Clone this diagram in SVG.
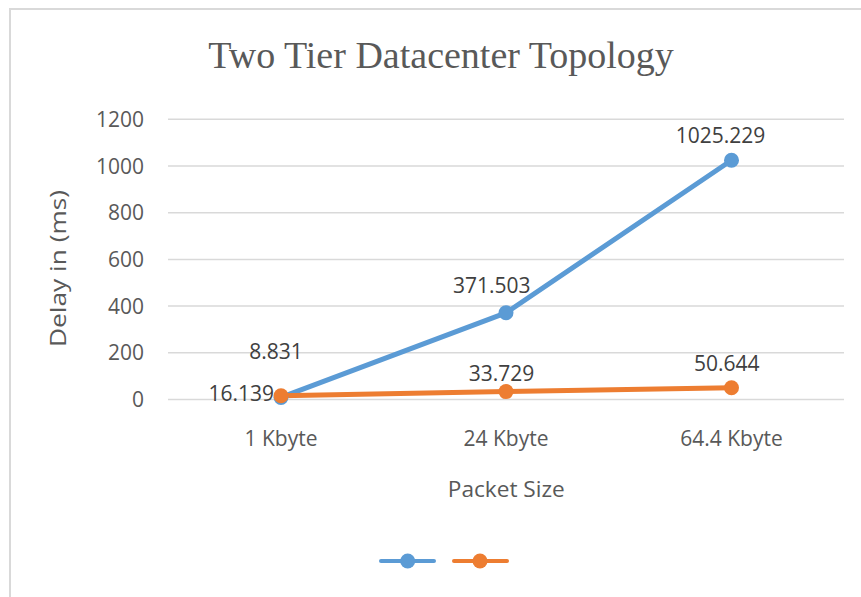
<svg xmlns="http://www.w3.org/2000/svg" width="861" height="597" viewBox="0 0 861 597">
  <style>
    .frame { fill: none; stroke: #d9d9d9; stroke-width: 2; }
    .grid { stroke: #d9d9d9; stroke-width: 1.5; }
    .lbl { font-family: "Open Sans", "Liberation Sans", sans-serif; font-size: 21px; fill: #595959; }
    .axt { font-family: "Open Sans", "Liberation Sans", sans-serif; font-size: 22px; fill: #595959; }
    .dl { font-family: "Open Sans", "Liberation Sans", sans-serif; font-size: 21px; fill: #404040; }
    .title { font-family: "Liberation Serif", "DejaVu Serif", serif; font-size: 38px; fill: #595959; }
    .blue { fill: none; stroke: #5b9bd5; stroke-width: 5; stroke-linejoin: round; stroke-linecap: round; }
    .orange { fill: none; stroke: #ed7d31; stroke-width: 5; stroke-linejoin: round; stroke-linecap: round; }
    .bdot { fill: #5b9bd5; }
    .odot { fill: #ed7d31; }
  </style>

  <rect width="861" height="597" fill="#ffffff"/>
  <!-- chart area frame (right and bottom edges fall outside the canvas) -->
  <rect class="frame" x="10" y="9" width="870" height="600"/>

  <text id="title" class="title" x="441" y="68" text-anchor="middle">Two Tier Datacenter Topology</text>

  <!-- value axis gridlines and tick labels -->
  <g id="y-axis">
    <line class="grid" x1="168" y1="119.3" x2="844" y2="119.3"/>
    <line class="grid" x1="168" y1="166" x2="844" y2="166"/>
    <line class="grid" x1="168" y1="212.7" x2="844" y2="212.7"/>
    <line class="grid" x1="168" y1="259.4" x2="844" y2="259.4"/>
    <line class="grid" x1="168" y1="306.1" x2="844" y2="306.1"/>
    <line class="grid" x1="168" y1="352.8" x2="844" y2="352.8"/>
    <line class="grid" x1="168" y1="399.5" x2="844" y2="399.5"/>
    <g class="lbl" text-anchor="end">
      <text x="144" y="126.8">1200</text>
      <text x="144" y="173.5">1000</text>
      <text x="144" y="220.2">800</text>
      <text x="144" y="266.9">600</text>
      <text x="144" y="313.6">400</text>
      <text x="144" y="360.3">200</text>
      <text x="144" y="407">0</text>
    </g>
    <text class="axt" x="0" y="0" text-anchor="middle" textLength="157" lengthAdjust="spacingAndGlyphs" transform="translate(66 268.5) rotate(-90)">Delay in (ms)</text>
  </g>

  <!-- category axis -->
  <g id="x-axis" text-anchor="middle">
    <text class="lbl" x="281" y="446">1 Kbyte</text>
    <text class="lbl" x="506" y="446">24 Kbyte</text>
    <text class="lbl" x="731.5" y="446">64.4 Kbyte</text>
    <text class="axt" x="506.3" y="497.3" textLength="117" lengthAdjust="spacingAndGlyphs">Packet Size</text>
  </g>

  <!-- data series -->
  <g id="connectors">
    <polyline class="blue" points="281,397.4 506,312.8 731.5,160.3"/>
    <polyline class="orange" points="281,395.7 506,391.6 731.5,387.7"/>
  </g>

  <g id="series-blue">
    <circle class="bdot" cx="281" cy="397.4" r="7.5"/>
    <circle class="bdot" cx="506" cy="312.8" r="7.5"/>
    <circle class="bdot" cx="731.5" cy="160.3" r="7.5"/>
  </g>
  <g id="series-orange">
    <circle class="odot" cx="281" cy="395.7" r="7.5"/>
    <circle class="odot" cx="506" cy="391.6" r="7.5"/>
    <circle class="odot" cx="731.5" cy="387.7" r="7.5"/>
  </g>

  <!-- data labels -->
  <g id="data-labels" class="dl" text-anchor="middle">
    <text x="276" y="359.3">8.831</text>
    <text x="491.7" y="292.7">371.503</text>
    <text x="720.5" y="143">1025.229</text>
    <text x="274" y="401" text-anchor="end">16.139</text>
    <text x="501.5" y="381">33.729</text>
    <text x="726.7" y="371">50.644</text>
  </g>

  <!-- legend -->
  <g id="legend">
    <line x1="381" y1="561" x2="434" y2="561" stroke="#5b9bd5" stroke-width="4" stroke-linecap="round"/>
    <circle class="bdot" cx="407.7" cy="561" r="7.5"/>
    <line x1="454" y1="561" x2="507" y2="561" stroke="#ed7d31" stroke-width="4" stroke-linecap="round"/>
    <circle class="odot" cx="480" cy="561" r="7.5"/>
  </g>
</svg>
